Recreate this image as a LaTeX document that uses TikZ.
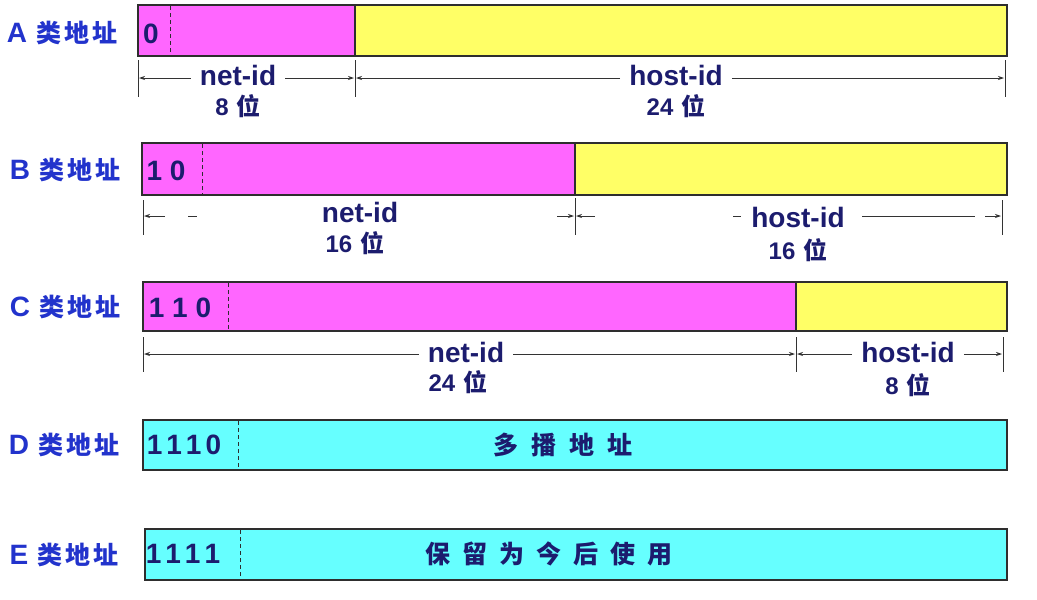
\documentclass[tikz,border=0pt]{standalone}
\usepackage{fontspec}
\setmainfont{Liberation Sans}
\newfontfamily\cjk{Noto Sans CJK SC}
\usetikzlibrary{arrows.meta}
\definecolor{mag}{HTML}{FF66FF}
\definecolor{yel}{HTML}{FFFF66}
\definecolor{cya}{HTML}{66FFFF}
\definecolor{lblue}{HTML}{2233CC}
\definecolor{navy}{HTML}{1C1C6E}
\definecolor{edge}{HTML}{2E2E2E}
\newcommand{\fbig}{\fontsize{28}{30}\selectfont}
\newcommand{\fmid}{\fontsize{25}{27}\selectfont}
\newcommand{\fsm}{\fontsize{24}{26}\selectfont}
\newcommand{\lbl}[1]{{\fbig #1}\hspace{9pt}{\cjk\fmid 类\hspace{3pt}地\hspace{3pt}址}}
\newcommand{\wei}[1]{{\fsm #1\hspace{8pt}\cjk 位}}
\tikzset{
  seg/.style={draw=edge, line width=1.6pt, inner sep=0pt, outer sep=0pt, anchor=north west},
  cls/.style={text=lblue, font=\bfseries, inner sep=0pt, anchor=base},
  bits/.style={text=navy, font=\fbig\bfseries, inner sep=0pt, anchor=base},
  dimtxt/.style={text=navy, font=\fbig\bfseries, inner xsep=9pt, inner ysep=0pt, anchor=base},
  sep/.style={draw=edge, line width=0.9pt, dash pattern=on 4pt off 3pt},
  tick/.style={draw=black!80, line width=0.7pt},
  dim/.style={draw=black!80, line width=0.8pt, -{Stealth[length=6pt,width=4pt]}},
  dimline/.style={draw=black!80, line width=0.8pt},
}
\begin{document}
\begin{tikzpicture}[x=1pt,y=-1pt]
\useasboundingbox (0,0) rectangle (1037,600);

% ---------- A ----------
\node[cls] (labA) at (62,42) {\lbl{A}};
\node[seg, fill=mag, minimum width=217pt, minimum height=51pt] (aN) at (138,5) {};
\node[seg, fill=yel, minimum width=652pt, minimum height=51pt] (aH) at (355,5) {};
\draw[sep] (170,6) -- (170,55);
\node[bits] (aB) at (151,43) {0};
\coordinate (a0t) at (138,60); \coordinate (a0b) at (138,97);
\coordinate (a1t) at (355,60); \coordinate (a1b) at (355,97);
\coordinate (a2t) at (1005,60); \coordinate (a2b) at (1005,97);
\draw[tick] (a0t) -- (a0b); \draw[tick] (a1t) -- (a1b); \draw[tick] (a2t) -- (a2b);
\node[dimtxt] (aNt) at (238,85) {net-id};
\node[dimtxt] (aNb) at (238,115) {\wei{8}};
\node[dimtxt] (aHt) at (676,85) {host-id};
\node[dimtxt] (aHb) at (676,115) {\wei{24}};
\coordinate (a0m) at (139,78); \coordinate (a1l) at (354,78);
\coordinate (a1r) at (356,78); \coordinate (a2m) at (1004,78);
\draw[dim] (aNt.west |- a0m) -- (a0m);
\draw[dim] (aNt.east |- a1l) -- (a1l);
\draw[dim] (aHt.west |- a1r) -- (a1r);
\draw[dim] (aHt.east |- a2m) -- (a2m);

% ---------- B ----------
\node[cls] (labB) at (65,179) {\lbl{B}};
\node[seg, fill=mag, minimum width=433pt, minimum height=52pt] (bN) at (142,143) {};
\node[seg, fill=yel, minimum width=432pt, minimum height=52pt] (bH) at (575,143) {};
\draw[sep] (202,144) -- (202,194);
\node[bits] (bB) at (166,180) {1 0};
\coordinate (b0t) at (143,200); \coordinate (b0b) at (143,235);
\coordinate (b1t) at (575,198); \coordinate (b1b) at (575,235);
\coordinate (b2t) at (1002,200); \coordinate (b2b) at (1002,235);
\draw[tick] (b0t) -- (b0b); \draw[tick] (b1t) -- (b1b); \draw[tick] (b2t) -- (b2b);
\node[dimtxt] (bNt) at (360,222) {net-id};
\node[dimtxt] (bNb) at (355,252) {\wei{16}};
\node[dimtxt] (bHt) at (798,227) {host-id};
\node[dimtxt] (bHb) at (798,259) {\wei{16}};
\coordinate (bp1) at (165,216); \coordinate (bp2) at (144,216);
\coordinate (bp3) at (188,216); \coordinate (bp4) at (197,216);
\coordinate (bp5) at (557,216); \coordinate (bp6) at (574,216);
\coordinate (bp7) at (595,216); \coordinate (bp8) at (576,216);
\coordinate (bp9) at (733,216); \coordinate (bp10) at (741,216);
\coordinate (bp11) at (862,216); \coordinate (bp12) at (975,216);
\coordinate (bp13) at (985,216); \coordinate (bp14) at (1001,216);
\draw[dim] (bp1) -- (bp2);
\draw[dimline] (bp3) -- (bp4);
\draw[dim] (bp5) -- (bp6);
\draw[dim] (bp7) -- (bp8);
\draw[dimline] (bp9) -- (bp10);
\draw[dimline] (bp11) -- (bp12);
\draw[dim] (bp13) -- (bp14);

% ---------- C ----------
\node[cls] (labC) at (65,316) {\lbl{C}};
\node[seg, fill=mag, minimum width=653pt, minimum height=49pt] (cN) at (143,282) {};
\node[seg, fill=yel, minimum width=211pt, minimum height=49pt] (cH) at (796,282) {};
\draw[sep] (228,283) -- (228,330);
\node[bits] (cB) at (180,317) {1 1 0};
\coordinate (c0t) at (143,337); \coordinate (c0b) at (143,372);
\coordinate (c1t) at (796,337); \coordinate (c1b) at (796,372);
\coordinate (c2t) at (1003,337); \coordinate (c2b) at (1003,372);
\draw[tick] (c0t) -- (c0b); \draw[tick] (c1t) -- (c1b); \draw[tick] (c2t) -- (c2b);
\node[dimtxt] (cNt) at (466,362) {net-id};
\node[dimtxt] (cNb) at (458,391) {\wei{24}};
\node[dimtxt] (cHt) at (908,362) {host-id};
\node[dimtxt] (cHb) at (908,394) {\wei{8}};
\coordinate (c0m) at (144,354); \coordinate (c1l) at (795,354);
\coordinate (c1r) at (797,354); \coordinate (c2m) at (1002,354);
\draw[dim] (cNt.west |- c0m) -- (c0m);
\draw[dim] (cNt.east |- c1l) -- (c1l);
\draw[dim] (cHt.west |- c1r) -- (c1r);
\draw[dim] (cHt.east |- c2m) -- (c2m);

% ---------- D ----------
\node[cls] (labD) at (64,454) {\lbl{D}};
\node[seg, fill=cya, minimum width=864pt, minimum height=50pt] (dA) at (143,420) {};
\draw[sep] (238,421) -- (238,469);
\node[bits] (dB) at (184,454) {1\kern4pt1\kern4pt1\kern4pt0};
\node[bits] (dT) at (563,454) {\cjk\fmid 多\hspace{13pt}播\hspace{13pt}地\hspace{13pt}址};

% ---------- E ----------
\node[cls] (labE) at (64,564) {\lbl{E}};
\node[seg, fill=cya, minimum width=862pt, minimum height=51pt] (eA) at (145,529) {};
\draw[sep] (240,530) -- (240,579);
\node[bits] (eB) at (183,563) {1\kern4pt1\kern4pt1\kern4pt1};
\node[bits] (eT) at (549,563) {\cjk\fmid 保\hspace{12pt}留\hspace{12pt}为\hspace{12pt}今\hspace{12pt}后\hspace{12pt}使\hspace{12pt}用};
\end{tikzpicture}
\end{document}
